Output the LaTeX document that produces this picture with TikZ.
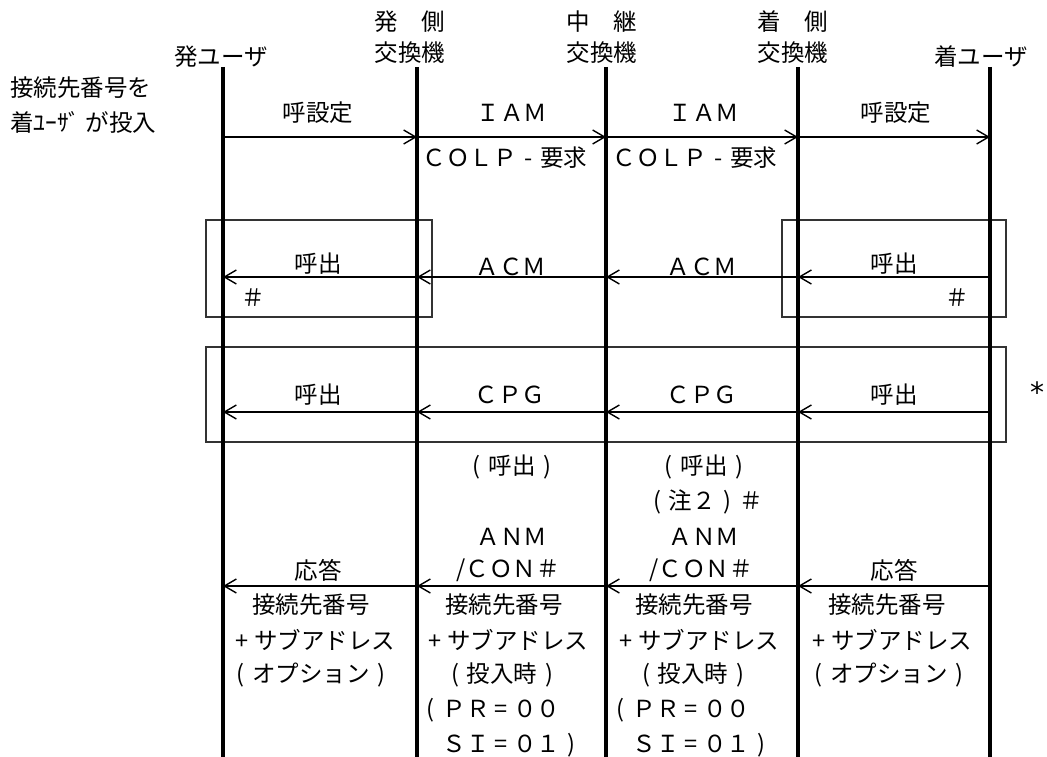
\documentclass[tikz,border=0pt]{standalone}
\usepackage{fontspec}
\setmainfont{Noto Sans CJK JP}
\newfontfamily\dejavu{DejaVu Sans}
\usetikzlibrary{arrows.meta}
\newcommand\hw[1]{\makebox[1em]{#1}}
\newcommand\lp{\hw{(}}
\newcommand\rp{\hw{)}}
\tikzset{
  life/.style={line width=4pt},
  msg/.style={line width=1.4pt,-{Straight Barb[length=12pt,width=14pt,line width=1.4pt]}},
  frame/.style={line width=1.3pt,draw=black!80},
  lbl/.style={inner sep=0pt,font=\fontsize{23.5}{28}\selectfont},
}
\begin{document}
\begin{tikzpicture}[x=1pt,y=-1pt]
\useasboundingbox (0,0) rectangle (1047,757);
% lifeline coordinates
\coordinate (L1) at (223,67);
\coordinate (L2) at (417,67);
\coordinate (L3) at (606,67);
\coordinate (L4) at (798,67);
\coordinate (L5) at (990,67);
\coordinate (bot) at (0,757);
% row coordinates
\coordinate (r1) at (0,137);
\coordinate (r2) at (0,277);
\coordinate (r3) at (0,412);
\coordinate (r4) at (0,586);
% boxes
\draw[frame] (206,220) rectangle (432,317);
\draw[frame] (782,220) rectangle (1006,317);
\draw[frame] (206,347) rectangle (1006,442);
% lifelines
\foreach \l in {L1,L2,L3,L4,L5} \draw[life] (\l) -- (\l |- bot);
% headers
\node[lbl] (h1) at (221,57) {発ユーザ};
\node[lbl] (h2a) at (410,22) {発　側};
\node[lbl] (h2b) at (410,53) {交換機};
\node[lbl] (h3a) at (602,22) {中　継};
\node[lbl] (h3b) at (602,53) {交換機};
\node[lbl] (h4a) at (793,22) {着　側};
\node[lbl] (h4b) at (793,53) {交換機};
\node[lbl] (h5) at (981,57) {着ユーザ};
\node[lbl,anchor=west] (n1) at (10,88) {接続先番号を};
\node[lbl,anchor=west] (n2) at (10,122) {着ﾕｰｻﾞ が投入};
% row 1
\draw[msg] (L1 |- r1) -- (L2 |- r1);
\draw[msg] (L2 |- r1) -- (L3 |- r1);
\draw[msg] (L3 |- r1) -- (L4 |- r1);
\draw[msg] (L4 |- r1) -- (L5 |- r1);
\node[lbl] (a1) at (318,113) {呼設定};
\node[lbl] (a2) at (512,113) {ＩＡＭ};
\node[lbl] (a3) at (704,113) {ＩＡＭ};
\node[lbl] (a4) at (896,113) {呼設定};
\node[lbl] (c2) at (505,158) {ＣＯＬＰ\hw{-}要求};
\node[lbl] (c3) at (695,158) {ＣＯＬＰ\hw{-}要求};
% row 2
\draw[msg] (L5 |- r2) -- (L4 |- r2);
\draw[msg] (L4 |- r2) -- (L3 |- r2);
\draw[msg] (L3 |- r2) -- (L2 |- r2);
\draw[msg] (L2 |- r2) -- (L1 |- r2);
\node[lbl] (b1) at (318,264) {呼出};
\node[lbl] (b2) at (511,267) {ＡＣＭ};
\node[lbl] (b3) at (702,267) {ＡＣＭ};
\node[lbl] (b4) at (894,264) {呼出};
\node[lbl] (s1) at (253,298) {＃};
\node[lbl] (s2) at (957,298) {＃};
% row 3
\draw[msg] (L5 |- r3) -- (L4 |- r3);
\draw[msg] (L4 |- r3) -- (L3 |- r3);
\draw[msg] (L3 |- r3) -- (L2 |- r3);
\draw[msg] (L2 |- r3) -- (L1 |- r3);
\node[lbl] (d1) at (318,395) {呼出};
\node[lbl] (d2) at (510,395) {ＣＰＧ};
\node[lbl] (d3) at (702,395) {ＣＰＧ};
\node[lbl] (d4) at (894,395) {呼出};
\node[inner sep=0pt,font=\dejavu\fontsize{28}{28}\selectfont] (star) at (1037,392) {*};
% row 4
\node[lbl] (e2a) at (512,467) {\lp 呼出\rp};
\node[lbl] (e3a) at (704,467) {\lp 呼出\rp};
\node[lbl] (e3b) at (704,502) {\lp 注２\rp＃};
\node[lbl] (e2c) at (512,537) {ＡＮＭ};
\node[lbl] (e3c) at (704,537) {ＡＮＭ};
\node[lbl] (e2d) at (508,570) {/ＣＯＮ＃};
\node[lbl] (e3d) at (701,570) {/ＣＯＮ＃};
\node[lbl] (e1) at (318,570) {応答};
\node[lbl] (e4) at (894,570) {応答};
\draw[msg] (L5 |- r4) -- (L4 |- r4);
\draw[msg] (L4 |- r4) -- (L3 |- r4);
\draw[msg] (L3 |- r4) -- (L2 |- r4);
\draw[msg] (L2 |- r4) -- (L1 |- r4);
% bottom texts
\node[lbl] (f1a) at (311,605) {接続先番号};
\node[lbl] (f1b) at (313,640) {\hw{+}サブアドレス};
\node[lbl] (f1c) at (311,675) {\lp オプション\rp};
\node[lbl] (f2a) at (504,605) {接続先番号};
\node[lbl] (f2b) at (506,640) {\hw{+}サブアドレス};
\node[lbl] (f2c) at (502,675) {\lp 投入時\rp};
\node[lbl,anchor=west] (f2d) at (419,710) {\lp ＰＲ\hw{=}００};
\node[lbl,anchor=west] (f2e) at (419,745) {　ＳＩ\hw{=}０１\rp};
\node[lbl] (f3a) at (694,605) {接続先番号};
\node[lbl] (f3b) at (697,640) {\hw{+}サブアドレス};
\node[lbl] (f3c) at (693,675) {\lp 投入時\rp};
\node[lbl,anchor=west] (f3d) at (609,710) {\lp ＰＲ\hw{=}００};
\node[lbl,anchor=west] (f3e) at (609,745) {　ＳＩ\hw{=}０１\rp};
\node[lbl] (f4a) at (887,605) {接続先番号};
\node[lbl] (f4b) at (890,640) {\hw{+}サブアドレス};
\node[lbl] (f4c) at (889,675) {\lp オプション\rp};
\end{tikzpicture}
\end{document}
